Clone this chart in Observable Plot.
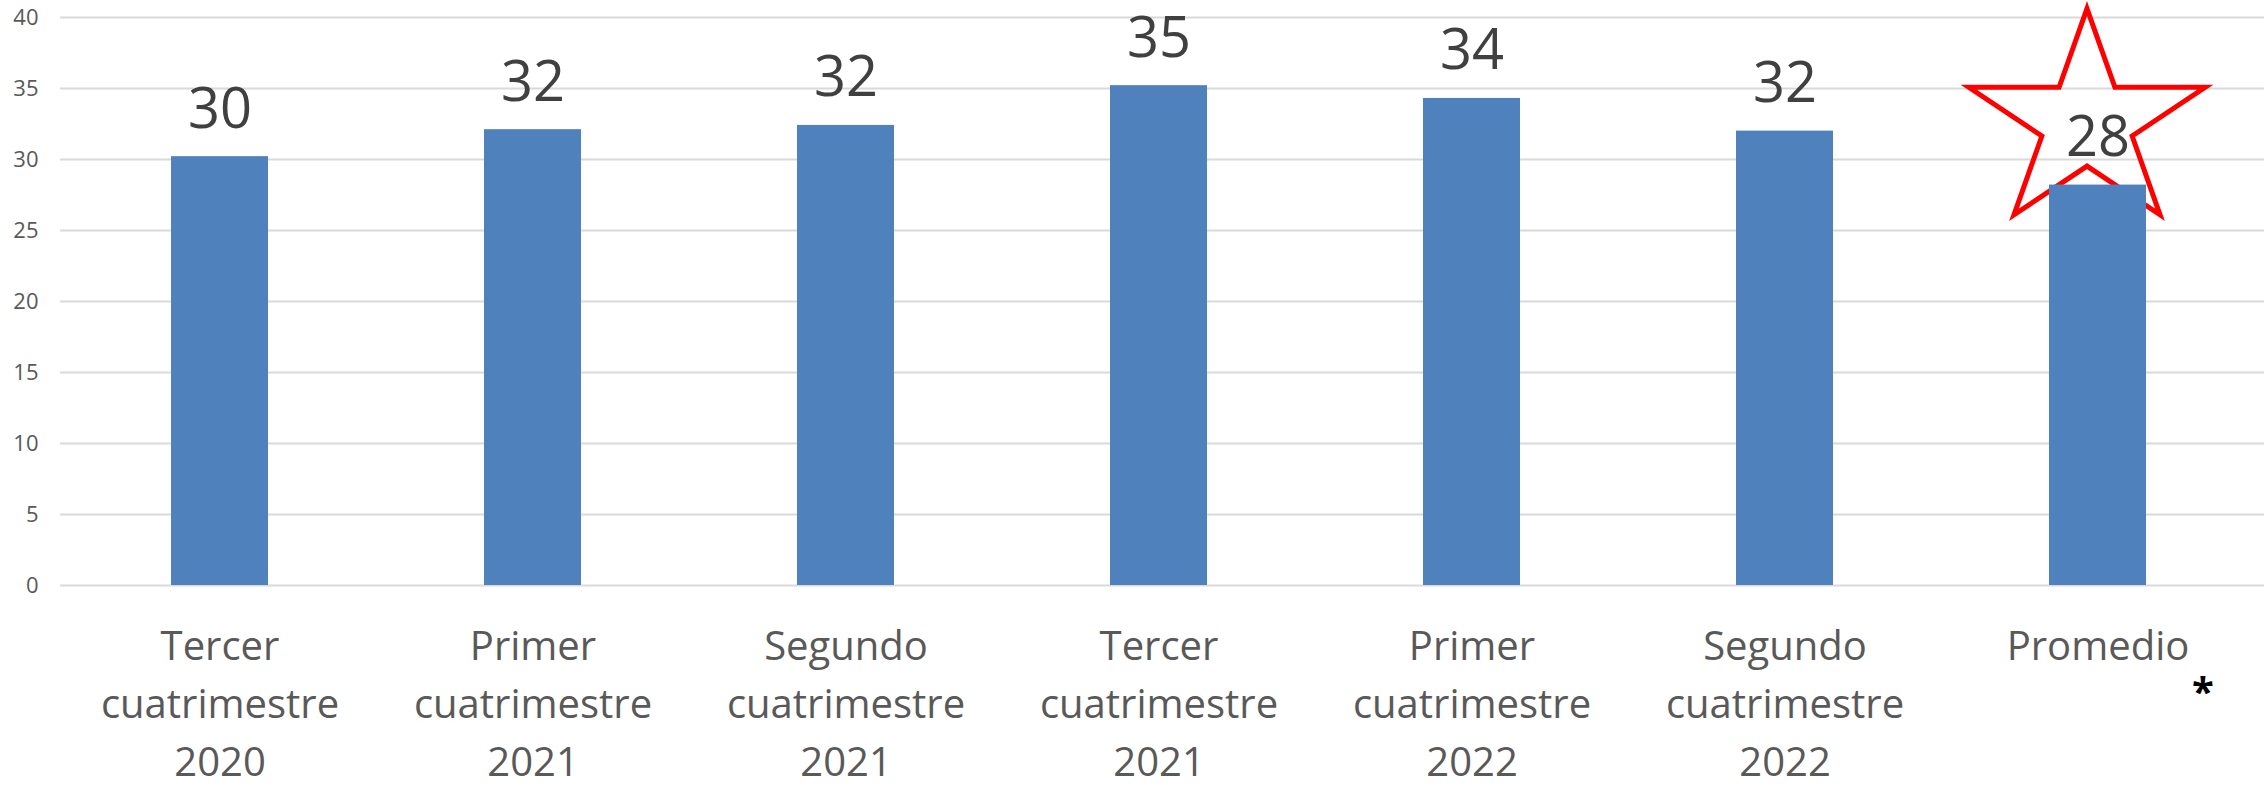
<!DOCTYPE html>
<html>
<head>
<meta charset="utf-8">
<script src="https://cdn.jsdelivr.net/npm/d3@7"></script>
<script src="https://cdn.jsdelivr.net/npm/@observablehq/plot@0.6"></script>
<style>
  html, body { margin: 0; padding: 0; background: #ffffff; }
  #chart svg { display: block; }
</style>
</head>
<body>
<div id="chart"></div>
<script>
// ---- data ----
const categories = [
  "Tercer\ncuatrimestre\n2020",
  "Primer\ncuatrimestre\n2021",
  "Segundo\ncuatrimestre\n2021",
  "Tercer\ncuatrimestre\n2021",
  "Primer\ncuatrimestre\n2022",
  "Segundo\ncuatrimestre\n2022",
  "Promedio"
];
const values = [30.2, 32.1, 32.4, 35.2, 34.3, 32.0, 28.2];
const valueLabels = ["30", "32", "32", "35", "34", "32", "28"];
const yTicks = [0, 5, 10, 15, 20, 25, 30, 35, 40];
const highlightCategory = "Promedio";
const highlightLevel = 32.6;
const footnoteMark = "*";

const data = categories.map((c, i) => ({cat: c, value: values[i], label: valueLabels[i]}));

// stretched five-pointed star symbol (outline)
const stretchedStar = {
  draw(context, size) {
    const r = Math.sqrt(size / Math.PI);
    const sx = 1.09, inner = 0.382;
    for (let k = 0; k < 10; ++k) {
      const rad = k % 2 === 0 ? r : r * inner;
      const a = k * Math.PI / 5;
      const x = Math.sin(a) * rad * sx, y = -Math.cos(a) * rad;
      if (k === 0) context.moveTo(x, y); else context.lineTo(x, y);
    }
    context.closePath();
  }
};

const chart = Plot.plot({
  width: 2264,
  height: 786,
  marginLeft: 60,
  marginRight: 8,
  marginTop: 17,
  marginBottom: 201,
  style: {fontFamily: "'Open Sans', sans-serif", background: "#ffffff", overflow: "visible"},
  x: {domain: categories, padding: 0},
  y: {domain: [0, 40]},
  marks: [
    Plot.ruleY(yTicks, {stroke: "#d9d9d9", strokeWidth: 2, insetRight: -8}),
    Plot.dot([{cat: highlightCategory, v: highlightLevel}], {
      x: "cat", y: "v", dx: -11, r: 114, symbol: stretchedStar,
      fill: "none", stroke: "#ff0000", strokeWidth: 5
    }),
    Plot.barY(data, {x: "cat", y: "value", fill: "#4f81bd", insetLeft: 108, insetRight: 108}),
    Plot.text(data, {
      x: "cat", y: "value", text: "label", lineAnchor: "bottom", dy: -29,
      fontSize: 56, fill: "#404040"
    }),
    Plot.axisY({
      ticks: yTicks, tickSize: 0, tickPadding: 22, fontSize: 22,
      color: "#595959", label: null
    }),
    Plot.axisX({
      tickSize: 0, tickPadding: 33, fontSize: 40, lineHeight: 1.45,
      color: "#595959", label: null
    }),
    Plot.text([{cat: highlightCategory, v: 0, t: footnoteMark}], {
      x: "cat", y: "v", text: "t", dx: 105, dy: 92, lineAnchor: "top",
      fontSize: 40, fontWeight: "bold", fill: "#000000"
    })
  ]
});
document.getElementById("chart").appendChild(chart);
</script>
</body>
</html>
